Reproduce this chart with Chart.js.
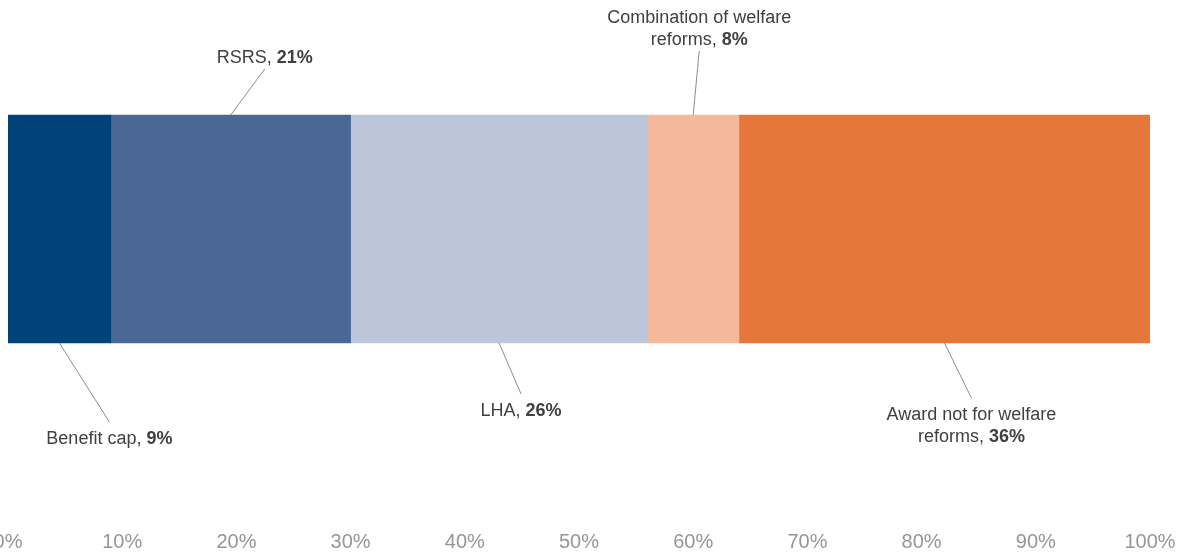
<!DOCTYPE html>
<html>
<head>
<meta charset="utf-8">
<script src="https://cdn.jsdelivr.net/npm/chart.js@4/dist/chart.umd.min.js"></script>
<style>
  html, body { margin: 0; padding: 0; background: #fff; overflow: hidden; }
  #wrap { position: relative; width: 1183px; height: 554px; }
</style>
</head>
<body>
<div id="wrap"><canvas id="awardChart"></canvas></div>
<script>
// 各类原因在裁决中的占比
const categories = ['Benefit cap', 'RSRS', 'LHA', 'Combination of welfare reforms', 'Award not for welfare reforms'];
const shares = [9, 21, 26, 8, 36];
const colours = ['#00437b', '#4a6796', '#bcc5d9', '#f4b99a', '#e6773b'];

// 标注文字(分行),最后一行后接加粗的百分比
const labelLines = [
  ['Benefit cap,'],
  ['RSRS,'],
  ['LHA,'],
  ['Combination of welfare', 'reforms,'],
  ['Award not for welfare', 'reforms,']
];
// 标注在条上方还是下方,引线终点的偏移
const labelSide = ['below', 'above', 'below', 'above', 'below'];
const leaderDx = [50, 34, 22, 6, 27];
const leaderLen = [79, 46, 51, 64, 55];

const tickStep = 10;

// 引线和标注
const leaderLabels = {
  id: 'leaderLabels',
  afterDatasetsDraw(chart) {
    const ctx = chart.ctx;
    const lineH = 22;
    ctx.save();
    chart.data.datasets.forEach((ds, i) => {
      const bar = chart.getDatasetMeta(i).data[0];
      if (!bar) return;
      const cx = (bar.x + bar.base) / 2;
      const top = bar.y - bar.height / 2;
      const bottom = bar.y + bar.height / 2;
      const above = labelSide[i] === 'above';
      const startY = above ? top : bottom;
      const endX = cx + leaderDx[i];
      const endY = above ? startY - leaderLen[i] : startY + leaderLen[i];

      ctx.strokeStyle = '#8c8c8c';
      ctx.lineWidth = 1;
      ctx.beginPath();
      ctx.moveTo(cx, startY);
      ctx.lineTo(endX, endY);
      ctx.stroke();

      const lines = labelLines[i];
      const n = lines.length;
      const firstY = above ? endY - 11 - (n - 1) * lineH : endY + 17;
      ctx.fillStyle = '#404040';
      ctx.textBaseline = 'middle';
      ctx.textAlign = 'left';
      lines.forEach((txt, k) => {
        const y = firstY + k * lineH;
        const normalFont = '18px "Liberation Sans", Arial, sans-serif';
        const boldFont = 'bold 18px "Liberation Sans", Arial, sans-serif';
        if (k === n - 1) {
          const val = shares[i] + '%';
          ctx.font = normalFont;
          const w1 = ctx.measureText(txt + ' ').width;
          ctx.font = boldFont;
          const w2 = ctx.measureText(val).width;
          const x0 = endX - (w1 + w2) / 2;
          ctx.font = normalFont;
          ctx.fillText(txt + ' ', x0, y);
          ctx.font = boldFont;
          ctx.fillText(val, x0 + w1, y);
        } else {
          ctx.font = normalFont;
          const w = ctx.measureText(txt).width;
          ctx.fillText(txt, endX - w / 2, y);
        }
      });
    });
    ctx.restore();
  }
};

const ctx = document.getElementById('awardChart').getContext('2d');
new Chart(ctx, {
  type: 'bar',
  data: {
    labels: [''],
    datasets: categories.map((name, i) => ({
      label: name,
      data: [shares[i]],
      backgroundColor: colours[i],
      borderWidth: 0,
      barThickness: 228
    }))
  },
  options: {
    indexAxis: 'y',
    responsive: true,
    maintainAspectRatio: false,
    animation: false,
    layout: {
      padding: { left: 8, right: 33, top: 0, bottom: 0 }
    },
    plugins: {
      legend: { display: false },
      tooltip: { enabled: false }
    },
    scales: {
      x: {
        stacked: true,
        min: 0,
        max: 100,
        grid: { display: false, drawTicks: false },
        border: { display: false },
        ticks: {
          stepSize: tickStep,
          padding: 72,
          color: '#969696',
          font: { size: 20, family: '"Liberation Sans", Arial, sans-serif' },
          callback: v => v + '%'
        },
        afterFit(scale) {
          // 首尾刻度不额外留边
          scale.paddingLeft = 0;
          scale.paddingRight = 0;
          scale.height = 96;
        }
      },
      y: {
        stacked: true,
        display: false
      }
    }
  },
  plugins: [leaderLabels]
});
</script>
</body>
</html>
